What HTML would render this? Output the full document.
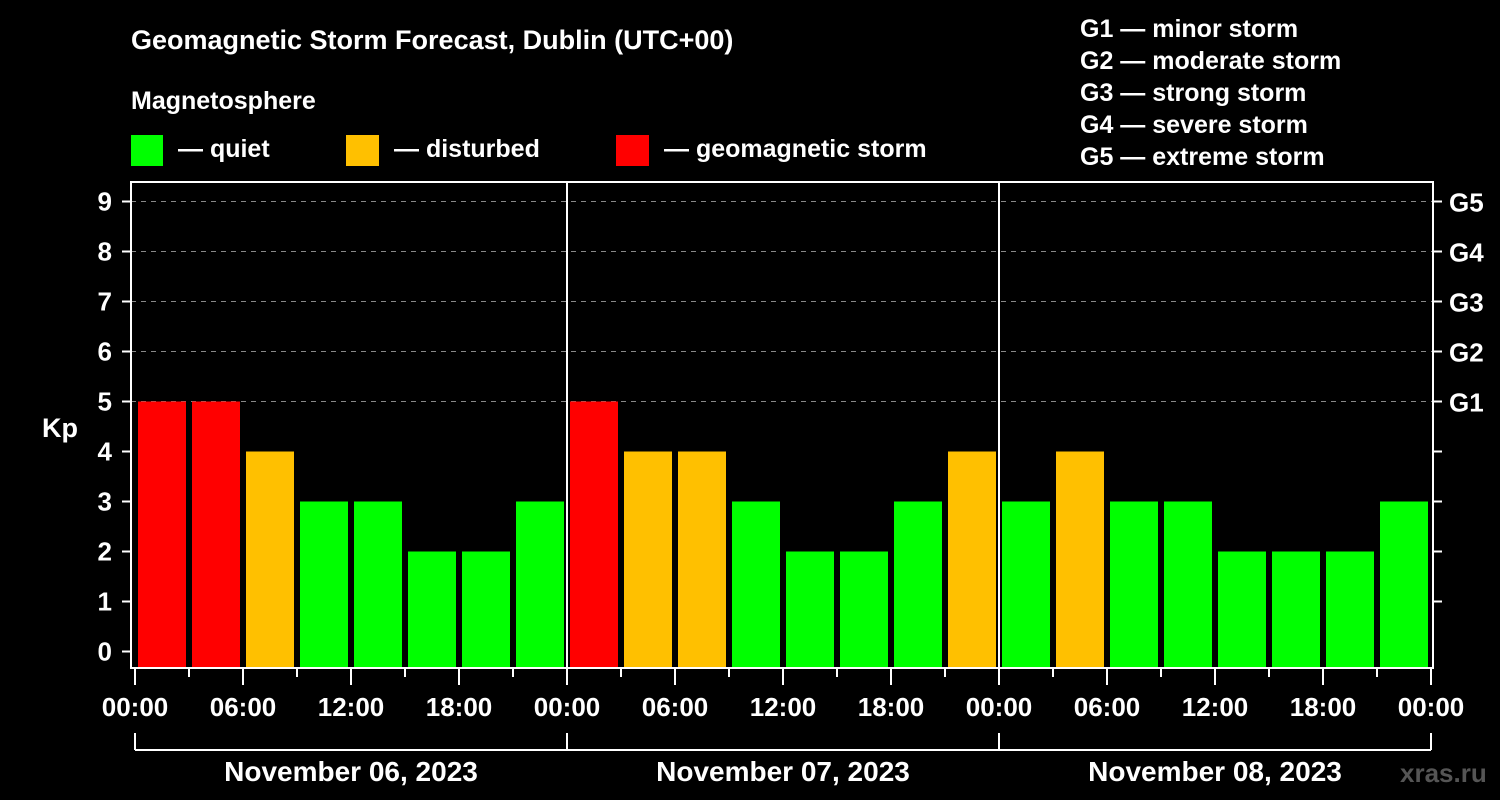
<!DOCTYPE html>
<html><head><meta charset="utf-8"><style>
html,body{margin:0;padding:0;background:#000;}
svg{display:block;font-family:"Liberation Sans",Arial,sans-serif;font-weight:bold;}
</style></head><body>
<svg id="chart" width="1500" height="800" viewBox="0 0 1500 800">
<rect width="1500" height="800" fill="#000"/>
<text x="131" y="49" fill="#fff" font-size="27">Geomagnetic Storm Forecast, Dublin (UTC+00)</text>
<text x="131" y="109" fill="#fff" font-size="25">Magnetosphere</text>
<g><rect x="131" y="135" width="32" height="31" fill="#00ff00"/><text x="178" y="157" fill="#fff" font-size="25">— quiet</text></g>
<g><rect x="346" y="135" width="33" height="31" fill="#ffc000"/><text x="394" y="157" fill="#fff" font-size="25">— disturbed</text></g>
<g><rect x="616" y="135" width="33" height="31" fill="#ff0000"/><text x="664" y="157" fill="#fff" font-size="25">— geomagnetic storm</text></g>
<g fill="#fff" font-size="25">
<text x="1080" y="37">G1 — minor storm</text>
<text x="1080" y="69">G2 — moderate storm</text>
<text x="1080" y="101">G3 — strong storm</text>
<text x="1080" y="133">G4 — severe storm</text>
<text x="1080" y="165">G5 — extreme storm</text>
</g>
<text x="42" y="437" fill="#fff" font-size="27">Kp</text>
<text x="1400" y="782" fill="#555" font-size="26">xras.ru</text>
<g id="grid"></g>
<g id="bars"></g>
<g id="axes"></g>
</svg>
<script>
const kpValues = [5,5,4,3,3,2,2,3, 5,4,4,3,2,2,3,4, 3,4,3,3,2,2,2,3];
const dayLabels = ["November 06, 2023","November 07, 2023","November 08, 2023"];
const hourLabels = ["00:00","06:00","12:00","18:00"];
const yTicks = [0,1,2,3,4,5,6,7,8,9];
const gLabels = ["G1","G2","G3","G4","G5"];
const NS="http://www.w3.org/2000/svg";
const L=131,R=1433,T=182,B=668,X0=135,DAYW=432;
const y=v=>651.5-v*50;
const x=h=>X0+h*DAYW/24;
function mk(tag,attrs,parent,txt){const e=document.createElementNS(NS,tag);for(const k in attrs)e.setAttribute(k,attrs[k]);if(txt!==undefined)e.textContent=txt;parent.appendChild(e);return e;}
const grid=document.getElementById('grid'),bars=document.getElementById('bars'),axes=document.getElementById('axes');
yTicks.forEach(v=>{
  if(v>=5){const g=mk('line',{x1:L,x2:R,y1:y(v),y2:y(v),stroke:'#888','stroke-width':1,'stroke-dasharray':'5,5'},grid);
  
  }
  const t=mk('line',{x1:122,x2:L,y1:y(v),y2:y(v),stroke:'#fff','stroke-width':2},axes);
  
  
  const lb=mk('text',{x:112,y:y(v)+9,fill:'#fff','font-size':26,'text-anchor':'end'},axes,String(v));
  
  
  if(v>=1){const rt=mk('line',{x1:R,x2:R+9,y1:y(v),y2:y(v),stroke:'#fff','stroke-width':2},axes);
  
  }
  if(v>=5){const gl=mk('text',{x:1449,y:y(v)+10,fill:'#fff','font-size':26},axes,gLabels[v-5]);
  
  }
});
kpValues.forEach((v,i)=>{
  const c=v>=5?'#ff0000':(v>=4?'#ffc000':'#00ff00');
  const r=mk('rect',{x:x(i*3)+3,y:y(v),width:48,height:B-1-y(v),fill:c},bars);
  
  
});
const fr=mk('rect',{x:L,y:T,width:R-L,height:B-T,fill:'none',stroke:'#fff','stroke-width':2},axes);


for(let d=1;d<dayLabels.length;d++){const s=mk('line',{x1:x(d*24),x2:x(d*24),y1:T,y2:B,stroke:'#fff','stroke-width':2},axes);
  
  }
for(let h=0;h<=dayLabels.length*24;h+=3){
  const major=h%6===0;
  const t=mk('line',{x1:x(h),x2:x(h),y1:B,y2:major?685:677,stroke:'#fff','stroke-width':2},axes);
  
  
  if(major){const lb=mk('text',{x:x(h),y:716,fill:'#fff','font-size':26,'text-anchor':'middle'},axes,hourLabels[(h%24)/6]);
  
  }
}
mk('line',{x1:x(0),x2:x(dayLabels.length*24),y1:750,y2:750,stroke:'#fff','stroke-width':2},axes);
for(let d=0;d<=dayLabels.length;d++){mk('line',{x1:x(d*24),x2:x(d*24),y1:733,y2:750,stroke:'#fff','stroke-width':2},axes);}
dayLabels.forEach((s,d)=>{const t=mk('text',{x:x(d*24+12),y:781,fill:'#fff','font-size':28,'text-anchor':'middle'},axes,s);
  
  });
</script>
</body></html>
